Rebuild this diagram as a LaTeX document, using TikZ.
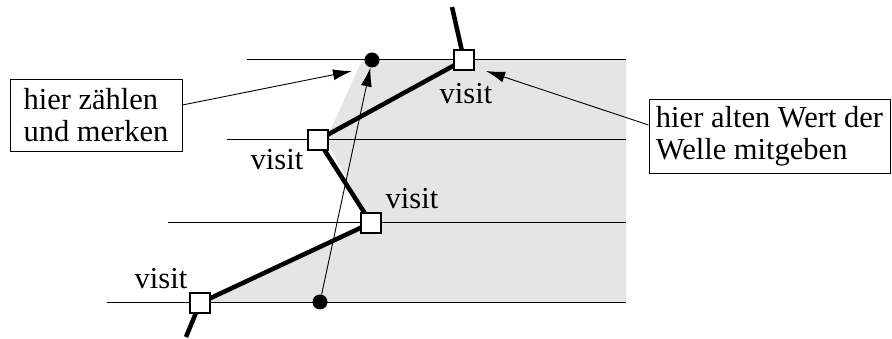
\documentclass[tikz,border=0pt]{standalone}
\usepackage{fontspec}
\setmainfont{Liberation Serif}
\usetikzlibrary{arrows.meta}
\definecolor{lightshade}{RGB}{229,229,229}
\tikzset{
  level/.style={line width=1pt},
  wave/.style={line width=4.5pt},
  visitbox/.style={draw, fill=white, line width=1.2pt, minimum size=20pt, inner sep=0pt},
  dot/.style={circle, fill=black, minimum size=15pt, inner sep=0pt},
  note/.style={draw, line width=0.9pt, align=left, font=\fontsize{30.5}{32}\selectfont},
  lbl/.style={font=\fontsize{30.5}{32}\selectfont, inner sep=0pt, anchor=base},
  pointer/.style={line width=0.9pt, -{Latex[length=19pt,width=11pt]}},
}
\begin{document}
\begin{tikzpicture}[x=1pt,y=-1pt]
\useasboundingbox (0,0) rectangle (892,339);
% shaded region
\fill[lightshade] (362,60) -- (626,60) -- (626,302) -- (205,302) -- (371,223) -- (326,140) -- cycle;
% horizontal levels
\draw[level] (247,60) -- (626,60);
\draw[level] (227,140) -- (626,140);
\draw[level] (168,223) -- (626,223);
\draw[level] (107,302) -- (626,302);
% wave
\coordinate (top) at (452,7);
\coordinate (c1) at (464,60);
\coordinate (c2) at (318,140);
\coordinate (c3) at (371,223);
\coordinate (c4) at (200,303);
\coordinate (bot) at (186,337);
\draw[wave] (top) -- (c1) -- (c2) -- (c3) -- (c4) -- (bot);
% dots and arrow
\node[dot] (d1) at (372,60) {};
\node[dot] (d2) at (320,302) {};
\draw[pointer] (d2) -- (d1);
% visit boxes
\node[visitbox] (s1) at (c1) {};
\node[visitbox] (s2) at (c2) {};
\node[visitbox] (s3) at (c3) {};
\node[visitbox] (s4) at (c4) {};
\node[lbl] (l1) at (466,104) {visit};
\node[lbl] (l2) at (277,170) {visit};
\node[lbl] (l3) at (412,209) {visit};
\node[lbl] (l4) at (161,288) {visit};
% notes
\node[note, minimum width=172pt, minimum height=72pt, inner xsep=12pt] (n1) at (96,115) {hier zählen\\und merken};
\node[note, minimum width=241pt, minimum height=74pt, inner xsep=5pt] (n2) at (769.5,136) {hier alten Wert der\\Welle mitgeben};
\coordinate (t1) at (352,71);
\coordinate (t2) at (486,71);
\draw[pointer] ([yshift=10pt]n1.east) -- (t1);
\draw[pointer] ([yshift=11pt]n2.west) -- (t2);
\end{tikzpicture}
\end{document}
